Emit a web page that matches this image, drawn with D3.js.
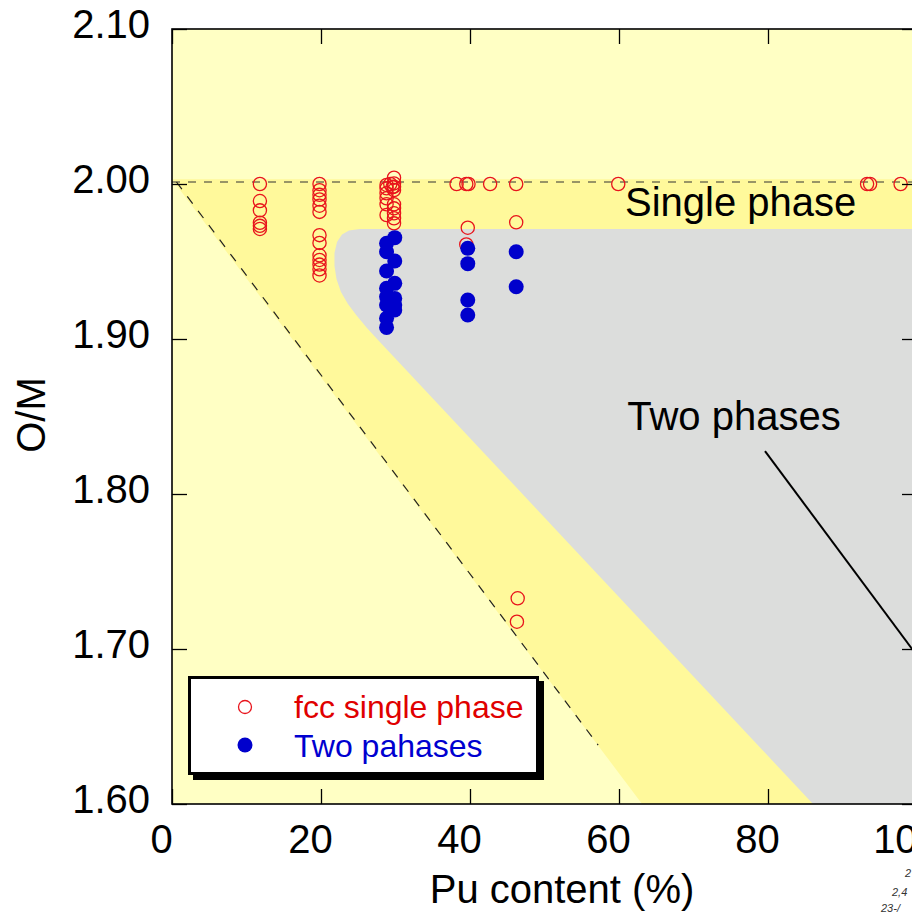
<!DOCTYPE html>
<html>
<head>
<meta charset="utf-8">
<script src="https://cdn.jsdelivr.net/npm/d3@7"></script>
<style>
  html, body { margin: 0; padding: 0; background: #ffffff; }
  svg { display: block; font-family: "Liberation Sans", Arial, sans-serif; }
</style>
</head>
<body>
<svg id="chart" width="912" height="916"></svg>
<script>
// ---------- data ----------
const xTicks = [0, 20, 40, 60, 80, 100];
const yTicks = [1.60, 1.70, 1.80, 1.90, 2.00, 2.10];

// fcc single phase (open red circles)
const singleX = [
  11.8, 11.8, 11.8, 11.8, 11.8, 11.8,
  19.8, 19.8, 19.8, 19.8, 19.8, 19.8, 19.8, 19.8, 19.8, 19.8, 19.8, 19.8, 19.8,
  28.8, 28.8, 28.8, 28.8, 28.8, 28.8, 29.3, 29.6,
  29.8, 29.8, 29.8, 29.8, 29.8, 29.8, 29.8, 29.8, 29.8,
  38.2, 39.5, 39.8, 42.7, 46.2, 59.9, 39.7, 39.5, 46.2, 46.4, 46.3,
  93.3, 93.7, 97.8
];
const singleY = [
  2.000, 1.989, 1.983, 1.975, 1.973, 1.971,
  2.000, 1.996, 1.993, 1.990, 1.986, 1.982, 1.967, 1.962, 1.954, 1.951, 1.948, 1.945, 1.941,
  1.9994, 1.9972, 1.9940, 1.9908, 1.9869, 1.9800, 2.000, 1.998,
  2.0041, 2.0004, 1.9983, 1.9961, 1.9869, 1.9843, 1.9811, 1.9779, 1.9746,
  2.000, 2.000, 2.000, 2.000, 2.000, 2.000, 1.9718, 1.961, 1.9753, 1.7327, 1.7176,
  2.000, 2.000, 2.000
];

// two phases (filled blue circles)
const twoX = [
  28.8, 28.8, 28.8, 28.8, 28.8, 28.8, 28.8, 28.8,
  29.9, 29.9, 29.9, 29.9, 29.9, 29.9,
  39.7, 39.7, 39.7, 39.7,
  46.2, 46.2
];
const twoY = [
  1.9617, 1.9563, 1.9439, 1.9327, 1.9273, 1.9219, 1.9134, 1.9075,
  1.9654, 1.9503, 1.9359, 1.9262, 1.9219, 1.9187,
  1.9585, 1.9486, 1.9252, 1.9155,
  1.9563, 1.9337
];

// phase regions
const bandX = [0, 100, 100, 63.1];
const bandY = [2.003, 2.003, 1.600, 1.600];

const grayX = [100, 25.23, 23.76, 22.82, 22.15, 21.81, 21.81, 22.08, 22.68, 23.62, 24.83, 26.17, 27.65, 86.04, 100];
const grayY = [1.971, 1.971, 1.970, 1.9674, 1.9626, 1.9555, 1.9471, 1.9387, 1.9303, 1.9226, 1.9148, 1.9071, 1.8994, 1.600, 1.600];

// reference lines
const stoichX = [0, 100];
const stoichY = [2.0013, 2.0013];
const limitX = [0.6, 57.2];
const limitY = [2.0013, 1.638];
const arrowX = [79.6, 100];
const arrowY = [1.8277, 1.6957];

const regionLabels = ["Single phase", "Two phases"];
const regionLabelX = [60.8, 61.1];
const regionLabelY = [1.9794, 1.8413];

const legendLabels = ["fcc single phase", "Two pahases"];
const scribbles = ["2", "2,4", "23-/"];

// ---------- colours ----------
const cLight = "#FFFFC4";
const cBand = "#FFF99B";
const cGray = "#DCDDDC";
const cRed = "#E8141C";
const cBlue = "#0000CC";

// ---------- scales ----------
const svg = d3.select("#chart");
const x = d3.scaleLinear().domain([0, 100]).range([172, 917]);
const y = d3.scaleLinear().domain([1.6, 2.1]).range([804, 29]);

const pts = (xs, ys) => xs.map((v, i) => [x(v), y(ys[i])]);

// background
svg.append("rect")
  .attr("x", x(0)).attr("y", y(2.1))
  .attr("width", x(100) - x(0)).attr("height", y(1.6) - y(2.1))
  .attr("fill", cLight);

const poly = d3.line().curve(d3.curveLinearClosed);
svg.append("path").attr("d", poly(pts(bandX, bandY))).attr("fill", cBand);
svg.append("path").attr("d", poly(pts(grayX, grayY))).attr("fill", cGray);

// dashed reference lines
const line = d3.line();
svg.append("path").attr("d", line(pts(stoichX, stoichY)))
  .attr("stroke", "#333").attr("stroke-width", 1.2).attr("stroke-dasharray", "8,8").attr("fill", "none");
svg.append("path").attr("d", line(pts(limitX, limitY)))
  .attr("stroke", "#222").attr("stroke-width", 1.2).attr("stroke-dasharray", "9,9").attr("fill", "none");

// annotation line
svg.append("path").attr("d", line(pts(arrowX, arrowY)))
  .attr("stroke", "#000").attr("stroke-width", 2).attr("fill", "none");

// region labels
svg.selectAll("text.region").data(regionLabels).enter().append("text")
  .attr("class", "region")
  .attr("x", (d, i) => x(regionLabelX[i]))
  .attr("y", (d, i) => y(regionLabelY[i]))
  .attr("font-size", 40).attr("fill", "#000")
  .text(d => d);

// points
svg.selectAll("circle.single").data(singleX).enter().append("circle")
  .attr("class", "single")
  .attr("cx", d => x(d)).attr("cy", (d, i) => y(singleY[i]))
  .attr("r", 6.6).attr("fill", "none").attr("stroke", cRed).attr("stroke-width", 1.3);
svg.selectAll("circle.two").data(twoX).enter().append("circle")
  .attr("class", "two")
  .attr("cx", d => x(d)).attr("cy", (d, i) => y(twoY[i]))
  .attr("r", 7.5).attr("fill", cBlue);

// axes
const tickLen = 15;
const gB = svg.append("g").attr("transform", `translate(0,${y(1.6)})`)
  .call(d3.axisBottom(x).tickValues(xTicks).tickSizeInner(-tickLen).tickSizeOuter(0).tickPadding(21).tickFormat(d3.format("d")));
gB.selectAll("text").attr("font-size", 40).attr("fill", "#000").attr("dx", -11).attr("font-family", null);
const gT = svg.append("g").attr("transform", `translate(0,${y(2.1)})`)
  .call(d3.axisTop(x).tickValues(xTicks).tickSizeInner(-tickLen).tickSizeOuter(0).tickFormat(""));
const gL = svg.append("g").attr("transform", `translate(${x(0)},0)`)
  .call(d3.axisLeft(y).tickValues(yTicks).tickSizeInner(-tickLen).tickSizeOuter(0).tickPadding(22).tickFormat(d3.format(".2f")));
gL.selectAll("text").attr("font-size", 40).attr("fill", "#000").attr("dy", "0.22em").attr("font-family", null);
const gR = svg.append("g").attr("transform", `translate(${x(100)},0)`)
  .call(d3.axisRight(y).tickValues(yTicks).tickSizeInner(-tickLen).tickSizeOuter(0).tickFormat(""));
[gB, gT, gL, gR].forEach(g => {
  g.select(".domain").remove();
  g.selectAll("line").attr("stroke", "#000").attr("stroke-width", 1.3);
});

// frame
svg.append("rect")
  .attr("x", x(0)).attr("y", y(2.1))
  .attr("width", x(100) - x(0)).attr("height", y(1.6) - y(2.1))
  .attr("fill", "none").attr("stroke", "#000").attr("stroke-width", 1.6);

// axis titles
svg.append("text").attr("x", 562).attr("y", 903).attr("text-anchor", "middle")
  .attr("font-size", 40).attr("fill", "#000").text("Pu content (%)");
svg.append("text").attr("transform", "translate(45,415) rotate(-90)").attr("text-anchor", "middle")
  .attr("font-size", 40).attr("fill", "#000").text("O/M");

// legend
const lg = svg.append("g");
lg.append("rect").attr("x", 193).attr("y", 681).attr("width", 351).attr("height", 99).attr("fill", "#000");
lg.append("rect").attr("x", 189.5).attr("y", 677.5).attr("width", 348).attr("height", 96)
  .attr("fill", "#fff").attr("stroke", "#000").attr("stroke-width", 3);
lg.append("circle").attr("cx", 245).attr("cy", 707).attr("r", 6.5)
  .attr("fill", "none").attr("stroke", cRed).attr("stroke-width", 1.3);
lg.append("circle").attr("cx", 245).attr("cy", 745).attr("r", 7.5).attr("fill", cBlue);
lg.selectAll("text").data(legendLabels).enter().append("text")
  .attr("x", 294).attr("y", (d, i) => 718 + i * 38.5)
  .attr("font-size", 32).attr("fill", (d, i) => i === 0 ? "#E00000" : "#0000D0")
  .text(d => d);

// scanned margin notes
svg.selectAll("text.note").data(scribbles).enter().append("text")
  .attr("class", "note")
  .attr("x", (d, i) => [905, 892, 881][i]).attr("y", (d, i) => [877, 896, 912][i])
  .attr("font-size", 11).attr("font-style", "italic").attr("fill", "#333")
  .text(d => d);
</script>
</body>
</html>
